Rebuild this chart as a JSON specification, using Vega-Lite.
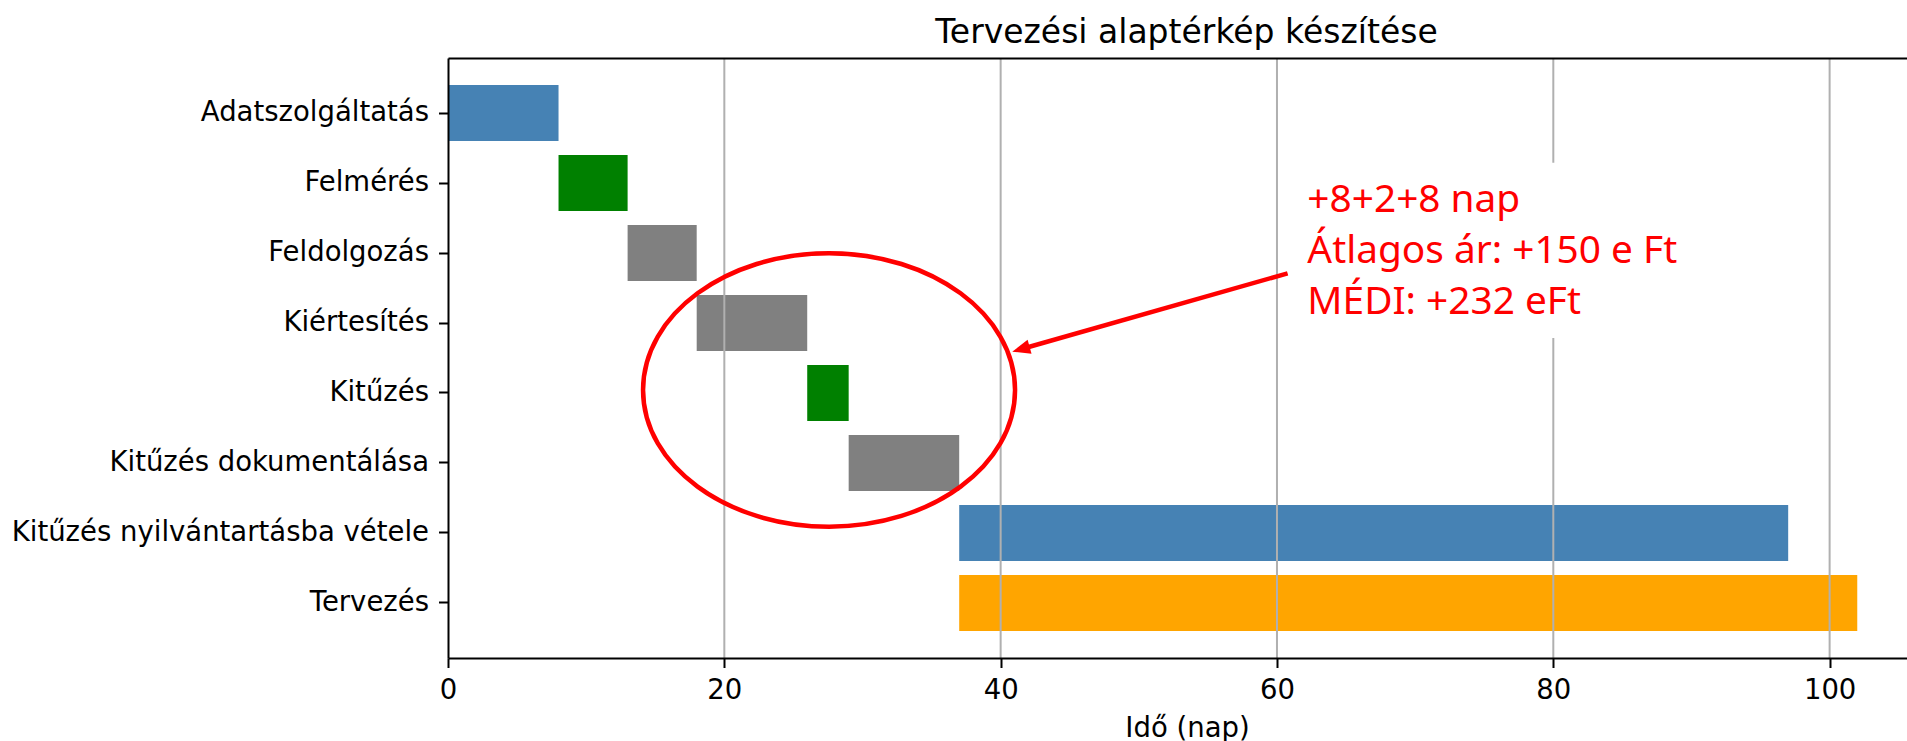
{
  "$schema": "https://vega.github.io/schema/vega-lite/v6.json",
  "width": 1459,
  "height": 600,
  "autosize": {"type": "none"},
  "padding": {"left": 448, "top": 58, "right": 0, "bottom": 83},
  "background": "white",
  "title": {
    "text": "Tervezési alaptérkép készítése",
    "font": "DejaVu Sans",
    "fontSize": 33,
    "fontWeight": "normal",
    "color": "black",
    "anchor": "middle",
    "baseline": "alphabetic",
    "dx": 9,
    "offset": -19
  },
  "config": {"view": {"stroke": null}},
  "datasets": {
    "tasks": [
      {"feladat": "Adatszolgáltatás", "kezdet": 0, "veg": 8},
      {"feladat": "Felmérés", "kezdet": 8, "veg": 13},
      {"feladat": "Feldolgozás", "kezdet": 13, "veg": 18},
      {"feladat": "Kiértesítés", "kezdet": 18, "veg": 26},
      {"feladat": "Kitűzés", "kezdet": 26, "veg": 29},
      {"feladat": "Kitűzés dokumentálása", "kezdet": 29, "veg": 37},
      {"feladat": "Kitűzés nyilvántartásba vétele", "kezdet": 37, "veg": 97},
      {"feladat": "Tervezés", "kezdet": 37, "veg": 102}
    ],
    "grid": [{"nap": 20}, {"nap": 40}, {"nap": 60}, {"nap": 80}, {"nap": 100}],
    "box": [{"x": 61.3, "x2": 90.4, "y": 0.709, "y2": 3.214}],
    "note": [{"x": 62.2, "y": 1.409, "szoveg": "+8+2+8 nap\nÁtlagos ár: +150 e Ft\nMÉDI: +232 eFt"}],
    "ellipse": [{"x": 27.58, "y": 3.957}],
    "arrow": [{"x": 60.77, "y": 2.29, "x2": 41.9, "y2": 3.35}],
    "head": [{"x": 40.84, "y": 3.41}]
  },
  "layer": [
    {
      "data": {"name": "tasks"},
      "mark": {"type": "bar"},
      "encoding": {
        "y": {
          "field": "feladat",
          "type": "nominal",
          "sort": null,
          "scale": {"paddingInner": 0.2, "paddingOuter": 0.387},
          "axis": {
            "title": null,
            "domain": true,
            "domainColor": "black",
            "domainWidth": 2,
            "ticks": true,
            "tickColor": "black",
            "tickWidth": 2,
            "tickSize": 9.5,
            "labelFont": "DejaVu Sans",
            "labelFontSize": 27.5,
            "labelColor": "black",
            "labelPadding": 10,
            "labelLimit": 0,
            "grid": false,
            "zindex": 1
          }
        },
        "x": {
          "field": "kezdet",
          "type": "quantitative",
          "scale": {"domain": [0, 105.6], "nice": false, "zero": false},
          "axis": {
            "orient": "bottom",
            "values": [0, 20, 40, 60, 80, 100],
            "title": "Idő (nap)",
            "titleFont": "DejaVu Sans",
            "titleFontSize": 27.5,
            "titleFontWeight": "normal",
            "titleColor": "black",
            "titleX": 739,
            "titleY": 78,
            "titleAlign": "center",
            "titleBaseline": "alphabetic",
            "domain": true,
            "domainColor": "black",
            "domainWidth": 2,
            "ticks": true,
            "tickColor": "black",
            "tickWidth": 2,
            "tickSize": 9.5,
            "labelFont": "DejaVu Sans",
            "labelFontSize": 27.5,
            "labelColor": "black",
            "labelPadding": 9,
            "labelFlush": false,
            "labelOverlap": false,
            "grid": false,
            "zindex": 1
          }
        },
        "x2": {"field": "veg"},
        "color": {
          "field": "feladat",
          "type": "nominal",
          "scale": {
            "domain": ["Adatszolgáltatás", "Felmérés", "Feldolgozás", "Kiértesítés", "Kitűzés", "Kitűzés dokumentálása", "Kitűzés nyilvántartásba vétele", "Tervezés"],
            "range": ["#4682b4", "#008000", "#808080", "#808080", "#008000", "#808080", "#4682b4", "#ffa500"]
          },
          "legend": null
        }
      }
    },
    {
      "data": {"name": "grid"},
      "mark": {"type": "rule", "color": "#b0b0b0", "strokeWidth": 2},
      "encoding": {
        "x": {"field": "nap", "type": "quantitative", "scale": {"domain": [0, 105.6], "nice": false, "zero": false}, "axis": null}
      }
    },
    {
      "encoding": {
        "x": {
          "field": "x",
          "type": "quantitative",
          "scale": {"domain": [0, 105.6], "nice": false, "zero": false},
          "axis": {"orient": "top", "title": null, "labels": false, "ticks": false, "grid": false, "domain": true, "domainColor": "black", "domainWidth": 2, "zindex": 1}
        },
        "y": {
          "field": "y",
          "type": "quantitative",
          "scale": {"domain": [-0.787, 7.787], "reverse": true, "nice": false, "zero": false},
          "axis": null
        }
      },
      "layer": [
        {
          "data": {"name": "box"},
          "mark": {"type": "rect", "fill": "white", "stroke": null},
          "encoding": {"x2": {"field": "x2"}, "y2": {"field": "y2"}}
        },
        {
          "data": {"name": "note"},
          "mark": {"type": "text", "font": "Noto Sans", "fontSize": 38.8, "color": "#ff0000", "align": "left", "baseline": "alphabetic", "lineBreak": "\n", "lineHeight": 51},
          "encoding": {"text": {"field": "szoveg", "type": "nominal"}}
        },
        {
          "data": {"name": "ellipse"},
          "mark": {"type": "point", "shape": "M-1,0A1,0.735 0 1,1 1,0A1,0.735 0 1,1 -1,0Z", "size": 138384, "filled": false, "stroke": "#ff0000", "strokeWidth": 4.5, "opacity": 1}
        },
        {
          "data": {"name": "arrow"},
          "mark": {"type": "rule", "color": "#ff0000", "strokeWidth": 4.5},
          "encoding": {"x2": {"field": "x2"}, "y2": {"field": "y2"}}
        },
        {
          "data": {"name": "head"},
          "mark": {"type": "point", "shape": "M0,0L2,-0.8L2,0.8Z", "size": 324, "filled": true, "fill": "#ff0000", "stroke": null, "opacity": 1, "angle": -15.9}
        }
      ]
    }
  ],
  "resolve": {"scale": {"y": "independent"}, "axis": {"x": "independent", "y": "independent"}}
}
